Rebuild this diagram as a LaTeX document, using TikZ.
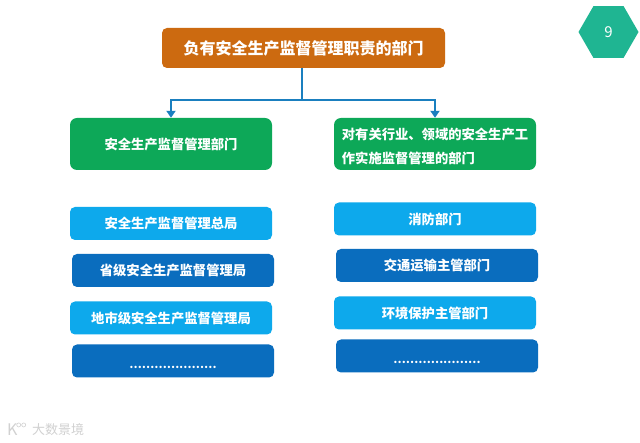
\documentclass[tikz,border=0pt]{standalone}
\usepackage{fontspec}
\setmainfont{Noto Sans CJK SC}
\usetikzlibrary{arrows.meta,shapes.geometric}
\definecolor{topc}{HTML}{CC6A10}
\definecolor{greenc}{HTML}{0DA858}
\definecolor{lightc}{HTML}{0DA9EC}
\definecolor{darkc}{HTML}{0A6DBE}
\definecolor{linec}{HTML}{1A7FBF}
\definecolor{hexc}{HTML}{1FB592}
\newcommand{\dotrow}{\raisebox{-8pt}[0pt][0pt]{…………………}}
\tikzset{
  x=1pt,y=-1pt,
  boxbase/.style={rounded corners=5pt,text=white,align=center,inner sep=0pt,font=\bfseries\fontsize{13.3}{24}\selectfont},
  topbox/.style={boxbase,fill=topc,minimum width=283pt,minimum height=40pt,font=\bfseries\fontsize{16}{20}\selectfont},
  greenbox/.style={boxbase,fill=greenc,minimum width=202pt,minimum height=52pt,rounded corners=7pt},
  lightbox/.style={boxbase,fill=lightc,minimum width=202pt,minimum height=33pt},
  darkbox/.style={boxbase,fill=darkc,minimum width=202pt,minimum height=33pt},
  dots/.style={font=\bfseries\fontsize{11.1}{13}\selectfont},
  conn/.style={linec,line width=2.6pt},
  arr/.style={conn,-{Triangle[length=7pt,width=9pt]}}
}
\begin{document}
\begin{tikzpicture}
\useasboundingbox (0,0) rectangle (640,443);
\fill[white] (0,0) rectangle (640,443);
\node[topbox] (top) at (303.5,48) {负有安全生产监督管理职责的部门};
\node[greenbox] (gl) at (171,144) {安全生产监督管理部门};
\node[greenbox,align=left] (gr) at (435,144) {\rule{0pt}{15.7pt}对有关行业、领域的安全生产工\\作实施监督管理的部门};
\node[lightbox] (l1) at (171,223.5) {安全生产监督管理总局};
\node[darkbox] (l2) at (173,270.5) {省级安全生产监督管理局};
\node[lightbox] (l3) at (171,318) {地市级安全生产监督管理局};
\node[darkbox,dots] (l4) at (173,361) {\dotrow};
\node[lightbox] (r1) at (435,219) {消防部门};
\node[darkbox] (r2) at (437,265.5) {交通运输主管部门};
\node[lightbox] (r3) at (435,313) {环境保护主管部门};
\node[darkbox,dots] (r4) at (437,356) {\dotrow};
\node[regular polygon,regular polygon sides=6,shape border rotate=0,fill=hexc,minimum size=60pt,inner sep=0pt,text=white,font=\fontsize{15}{16}\selectfont] (hex) at (608.5,32) {9};
\coordinate (bus) at (302,100);
\coordinate (src) at (302,68);
\draw[conn] (src) -- (bus);
\draw[arr] (bus) -| (gl.north);
\draw[arr] (bus) -| (gr.north);
\node[text=black!18,anchor=west,inner sep=0pt,font=\fontsize{13}{14}\selectfont] (wm) at (32,430) {大数景境};
\node[text=black!18,anchor=west,inner sep=0pt,font=\fontsize{16}{16}\selectfont] (wk) at (7,430) {K};
\draw[black!18,line width=0.6pt] (wk.north east) ++(1,1) circle (2pt) ++(5,0) circle (2pt);
\end{tikzpicture}
\end{document}
